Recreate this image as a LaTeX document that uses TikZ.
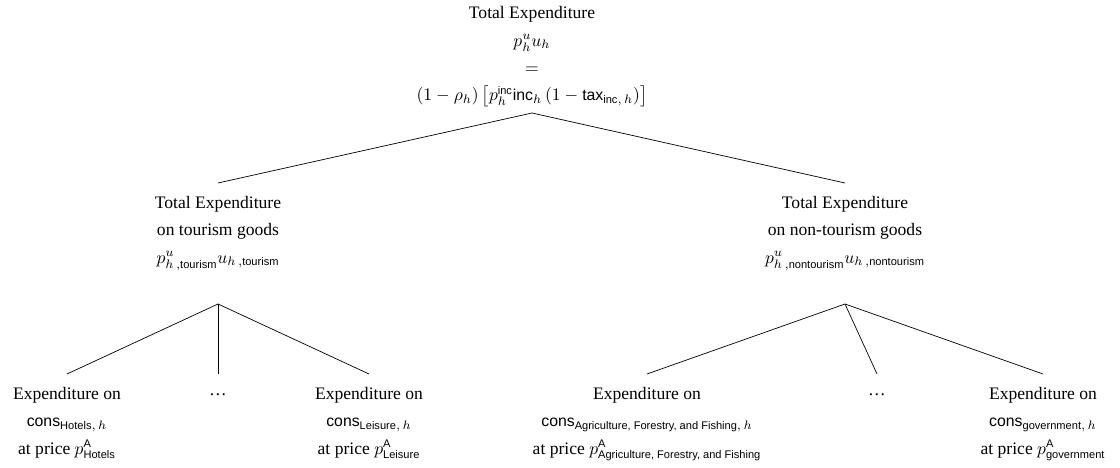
\documentclass[tikz,border=0pt]{standalone}
\usepackage{amsmath}
\usepackage[no-math]{fontspec}
\setmainfont{Liberation Serif}
\setsansfont[Scale=0.9]{Liberation Sans}
\usetikzlibrary{positioning}

\begin{document}
\begin{tikzpicture}[
  lvl/.style={align=center,font=\fontsize{10}{15.5}\selectfont,anchor=north,inner ysep=7.5pt},
  gap/.style={lvl,text height=4.5pt},
  branch/.style={thin}]
  \useasboundingbox (0,0) rectangle (22.4,-9.36);
  % root
  \node[align=center,font=\fontsize{10}{15.5}\selectfont,anchor=south] (total) at (10.64,-2.26)
    {Total Expenditure\\ $p^u_h u_h$\\ $=$\\
     $(1-\rho_h)\left[p_h^{\textsf{inc}}\textsf{inc}_h\,(1-\textsf{tax}_{\textsf{inc},\,h})\right]$};
  % second level
  \node[lvl] (tour) at (4.36,-3.66)
    {Total Expenditure\\ on tourism goods\\ $p^u_{h\,,\textsf{tourism}}u_{h\,,\textsf{tourism}}$};
  \node[lvl] (nontour) at (16.9,-3.66)
    {Total Expenditure\\ on non-tourism goods\\ $p^u_{h\,,\textsf{nontourism}}u_{h\,,\textsf{nontourism}}$};
  \coordinate (tourfork) at (4.36,-6.08);
  \coordinate (nontourfork) at (16.9,-6.08);
  % leaves
  \node[lvl] (hotels) at (1.34,-7.48)
    {Expenditure on\\ $\textsf{cons}_{\textsf{Hotels},\,h}$\\ at price $p^{\textsf{A}}_{\textsf{Hotels}}$};
  \node[gap] (tourdots) at (4.36,-7.48) {\dots};
  \node[lvl] (leisure) at (7.38,-7.48)
    {Expenditure on\\ $\textsf{cons}_{\textsf{Leisure},\,h}$\\ at price $p^{\textsf{A}}_{\textsf{Leisure}}$};
  \node[lvl] (agri) at (12.94,-7.48)
    {Expenditure on\\ $\textsf{cons}_{\textsf{Agriculture, Forestry, and Fishing},\,h}$\\
     at price $p^{\textsf{A}}_{\textsf{Agriculture, Forestry, and Fishing}}$};
  \node[gap] (nontourdots) at (17.54,-7.48) {\dots};
  \node[lvl] (gov) at (20.86,-7.48)
    {Expenditure on\\ $\textsf{cons}_{\textsf{government},\,h}$\\ at price $p^{\textsf{A}}_{\textsf{government}}$};
  % branches
  \draw[branch] (tour.north) -- (total.south) -- (nontour.north);
  \draw[branch] (hotels.north) -- (tourfork) -- (leisure.north);
  \draw[branch] (tourfork) -- (tourdots.north);
  \draw[branch] (agri.north) -- (nontourfork) -- (gov.north);
  \draw[branch] (nontourfork) -- (nontourdots.north);
\end{tikzpicture}
\end{document}
